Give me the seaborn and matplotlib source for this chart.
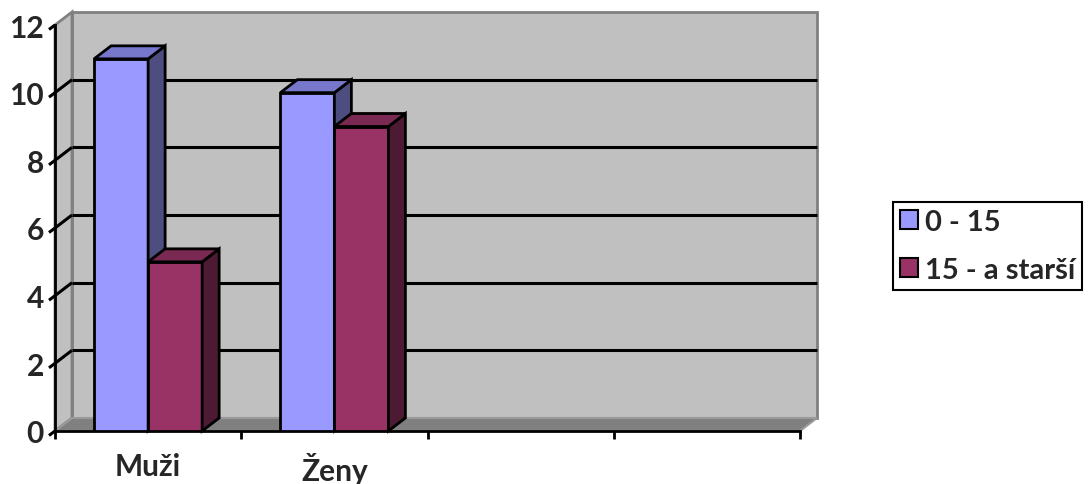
import pandas as pd
import seaborn as sns
import matplotlib.pyplot as plt
from matplotlib.patches import Polygon, Patch
from matplotlib.transforms import IdentityTransform

# data
kategorie = ['Muži', 'Muži', 'Ženy', 'Ženy']
vek = ['0 - 15', '15 - a starší', '0 - 15', '15 - a starší']
pocet = [11, 5, 10, 9]
skupiny = ['0 - 15', '15 - a starší']
poradi = ['Muži', 'Ženy']
yticks = [0, 2, 4, 6, 8, 10, 12]

barvy = ['#9999FF', '#993366']
barvy_vrch = ['#7777CC', '#7A2952']
barvy_bok = ['#4D4D80', '#4D1A33']

df = pd.DataFrame({'kategorie': kategorie, 'vek': vek, 'pocet': pocet})

sns.set_style('white')
plt.rcParams['font.family'] = ['Lato', 'DejaVu Sans']
plt.rcParams['font.weight'] = 'bold'

W, H = 1092, 485
fig = plt.figure(figsize=(W / 100, H / 100), dpi=100)
ax = fig.add_axes([55 / W, (H - 432) / H, (800 - 55) / W, (432 - 26) / H])
ax.set_facecolor('none')

sns.barplot(data=df, x='kategorie', y='pocet', hue='vek', order=poradi,
            hue_order=skupiny, palette=barvy, saturation=1, width=0.58, errorbar=None,
            edgecolor='black', linewidth=2, legend=False, ax=ax)
# seaborn adds the bars hue group by hue group
bars = [(p, i // len(poradi)) for i, p in enumerate(ax.patches)]

ax.set_xlim(-0.5, 3.5)
ax.set_ylim(0, 12)

# depth offset of the 3d look, in pixels
dx, dy = 17, 13
td = ax.transData


def front(x, y):
    p = td.transform((x, y))
    return (p[0], p[1])


def back(x, y):
    p = td.transform((x, y))
    return (p[0] + dx, p[1] + dy)


def poly(pts, fc, ec, lw, z):
    ax.add_patch(Polygon(pts, closed=True, facecolor=fc, edgecolor=ec, linewidth=lw,
                         transform=IdentityTransform(), clip_on=False, zorder=z,
                         joinstyle='miter'))


def line(a, b, z=1):
    ax.plot([a[0], b[0]], [a[1], b[1]], color='black', lw=2.2, solid_capstyle='butt',
            transform=IdentityTransform(), clip_on=False, zorder=z)


x0, x1 = -0.5, 3.5
# walls and floor
poly([back(x0, 0), back(x1, 0), back(x1, 12), back(x0, 12)], '#C0C0C0', '#808080', 2, 0.5)
poly([front(x0, 0), front(x0, 12), back(x0, 12), back(x0, 0)], '#C0C0C0', '#808080', 2, 0.6)
poly([front(x0, 0), front(x1, 0), back(x1, 0), back(x0, 0)], '#808080', '#9A9A9A', 1.5, 0.7)

# gridlines on the back wall and the side wall, slanted y ticks
for v in yticks:
    c = front(x0, v)
    line((c[0] - 6, c[1] - 4.5), c, 2.6)
    if 0 < v < 12:
        a, b = back(x0, v), back(x1, v)
        line(a, b)
        line(c, a)

# side and top faces of the columns, drawn left to right
bars.sort(key=lambda t: t[0].get_x())
for i, (p, k) in enumerate(bars):
    bx, bw, bh = p.get_x(), p.get_width(), p.get_height()
    z = 3 + i * 0.1
    p.set_zorder(z)
    poly([front(bx + bw, 0), back(bx + bw, 0), back(bx + bw, bh), front(bx + bw, bh)],
         barvy_bok[k], 'black', 2, z + 0.01)
    poly([front(bx, bh), front(bx + bw, bh), back(bx + bw, bh), back(bx, bh)],
         barvy_vrch[k], 'black', 2, z + 0.02)

# axes
sns.despine(ax=ax, top=True, right=True)
for s in ['left', 'bottom']:
    ax.spines[s].set_linewidth(2)
    ax.spines[s].set_color('black')
    ax.spines[s].set_zorder(2.5)

ax.set_yticks(yticks)
ax.set_yticklabels([str(v) for v in yticks])
ax.tick_params(axis='y', length=0, pad=8, labelsize=21.5)
ax.set_xticks([0, 1])
ax.set_xticklabels(poradi)
ax.set_xticks([-0.5, 0.5, 1.5, 2.5, 3.5], minor=True)
ax.tick_params(axis='x', which='major', length=0, pad=15, labelsize=21.5)
ax.tick_params(axis='x', which='minor', direction='out', length=6, width=2,
               bottom=True, color='black')
for t in ax.get_xticklabels() + ax.get_yticklabels():
    t.set_fontweight('bold')
ax.set_xlabel('')
ax.set_ylabel('')

handles = [Patch(facecolor=c, edgecolor='black', linewidth=1.5) for c in barvy]
leg = fig.legend(handles, skupiny, loc='center left', bbox_to_anchor=(893 / W, 1 - 247 / H),
                 frameon=True, fancybox=False, edgecolor='black', framealpha=1,
                 prop={'size': 21, 'weight': 'bold'}, handlelength=0.62, handleheight=0.62,
                 handletextpad=0.22, borderpad=0.25, labelspacing=0.75, borderaxespad=0)
leg.get_frame().set_linewidth(1.5)

fig.savefig('out.png', dpi=100)
